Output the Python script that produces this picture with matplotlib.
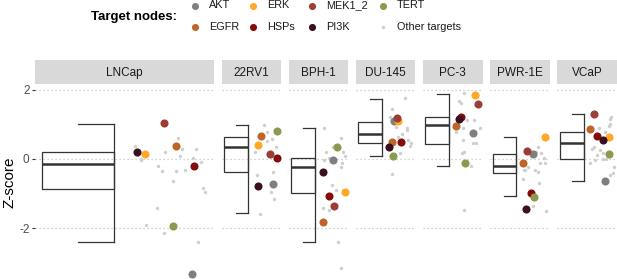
import matplotlib
matplotlib.use("Agg")
import matplotlib.pyplot as plt
from matplotlib.patches import Rectangle

plt.rcParams['font.family'] = ['Liberation Sans', 'DejaVu Sans']

cells = ['LNCap', '22RV1', 'BPH-1', 'DU-145', 'PC-3', 'PWR-1E', 'VCaP']
width_ratio = [3, 1, 1, 1, 1, 1, 1]

# box summary per cell line
whis_lo = [-2.40, -1.57, -2.40, 0.08, -0.19, -1.08, -0.63]
q1 = [-0.87, -0.38, -0.98, 0.47, 0.44, -0.41, 0.00]
med = [-0.15, 0.34, -0.22, 0.73, 0.99, -0.21, 0.45]
q3 = [0.19, 0.62, 0.04, 1.06, 1.20, 0.13, 0.78]
whis_hi = [1.02, 0.99, 0.89, 1.73, 1.88, 0.62, 1.28]

# target nodes
nodes = ['AKT', 'EGFR', 'ERK', 'HSPs', 'MEK1_2', 'PI3K', 'TERT']
node_colors = ['#7f7f7f', '#c0652a', '#ffa826', '#860b0b', '#9e3d36', '#3a0f22', '#8a9a4e']
other_color = '#cfcfcf'

akt = [-3.32, -0.73, -0.04, 1.10, 0.74, 0.14, -0.63]
egfr = [0.37, 0.66, -1.82, 0.50, 0.96, -0.11, 0.86]
erk = [0.135, 0.39, -0.94, 1.10, 1.84, 0.63, 0.64]
hsps = [-0.20, 0.04, -1.06, 0.50, 1.22, -0.97, 0.67]
mek = [1.03, 0.14, -1.35, 1.17, 1.58, 0.23, 1.29]
pi3k = [0.21, -0.77, -0.37, 0.33, 1.15, -1.45, 0.55]
tert = [-1.93, 0.81, 0.34, 0.07, -0.12, -1.09, 0.14]
node_values = [akt, egfr, erk, hsps, mek, pi3k, tert]

# jitter positions inside each panel
akt_x = [0.878, 0.867, 0.75, 0.64, 0.84, 0.72, 0.805]
egfr_x = [0.787, 0.667, 0.57, 0.61, 0.56, 0.555, 0.54]
erk_x = [0.614, 0.61, 0.94, 0.71, 0.87, 0.92, 0.87]
hsps_x = [0.891, 0.93, 0.67, 0.76, 0.64, 0.68, 0.66]
mek_x = [0.72, 0.817, 0.755, 0.695, 0.93, 0.62, 0.62]
pi3k_x = [0.571, 0.605, 0.57, 0.56, 0.61, 0.605, 0.77]
tert_x = [0.771, 0.933, 0.81, 0.62, 0.71, 0.73, 0.87]
node_x = [akt_x, egfr_x, erk_x, hsps_x, mek_x, pi3k_x, tert_x]

# other targets
other_v = [
    [0.60, 0.28, 0.30, 0.20, 0.08, 0.04, 0.0, -0.10, -0.21, -0.36, -0.36, -0.31, -0.65, -0.85, -0.94, -1.40, -1.90, -2.14, -2.40, 0.38, -0.03],
    [0.98, 0.79, 0.57, 0.33, 0.21, -0.46, -0.37, -0.94, -1.16, -1.58, 0.52],
    [0.90, 0.60, 0.33, 0.21, 0.21, 0.07, 0.04, -0.03, -0.12, -0.22, -0.75, -0.89, -1.40, -1.47, -2.38, -3.13, -0.95],
    [1.75, 1.44, 1.22, 0.90, 0.84, 0.93, 0.71, 0.55, 0.45, 0.38, 0.16, -0.44, 0.64],
    [1.89, 1.67, 1.61, 1.12, 1.12, 0.90, 0.90, 0.79, 0.55, 0.45, 0.45, 0.21, 0.17, -0.19, -1.47],
    [0.35, 0.21, 0.16, 0.02, -0.11, -0.12, -0.22, -0.32, -0.33, -0.32, -0.37, -0.58, -0.68, -1.35, -1.49],
    [1.20, 1.14, 1.0, 0.94, 0.79, 0.90, 0.33, 0.30, 0.26, 0.16, 0.12, 0.0, -0.03, -0.12, 0.01, -0.22, -0.41, -0.46],
]
other_x = [
    [0.80, 0.82, 0.90, 0.725, 0.81, 0.88, 0.59, 0.93, 0.687, 0.71, 0.79, 0.84, 0.77, 0.94, 0.95, 0.68, 0.62, 0.72, 0.91, 0.56, 0.59],
    [0.705, 0.76, 0.845, 0.91, 0.567, 0.60, 0.855, 0.83, 0.88, 0.64, 0.76],
    [0.60, 0.88, 0.74, 0.62, 0.91, 0.95, 0.67, 0.59, 0.89, 0.87, 0.72, 0.80, 0.57, 0.68, 0.82, 0.87, 0.92],
    [0.83, 0.60, 0.58, 0.85, 0.86, 0.67, 0.78, 0.87, 0.93, 0.91, 0.74, 0.61, 0.70],
    [0.68, 0.61, 0.64, 0.74, 0.86, 0.67, 0.95, 0.56, 0.67, 0.83, 0.88, 0.68, 0.66, 0.81, 0.68],
    [0.80, 0.76, 0.85, 0.90, 0.915, 0.835, 0.63, 0.575, 0.59, 0.75, 0.80, 0.555, 0.82, 0.72, 0.93],
    [0.895, 0.88, 0.88, 0.87, 0.80, 0.69, 0.62, 0.58, 0.72, 0.77, 0.67, 0.76, 0.63, 0.54, 0.82, 0.95, 0.93, 0.88],
]

W, H = 617, 279
fig = plt.figure(figsize=(W / 100, H / 100), dpi=100)

left_px, right_px, gap_px = 35, 617, 7.5
unit = (right_px - left_px - gap_px * (len(cells) - 1)) / sum(width_ratio)
panel_top, panel_bot = 85, 279
strip_top, strip_bot = 60, 84
box_l, box_r, cap_l = 0.04, 0.44, 0.24
line_c = '#333333'

x0 = left_px
for i, cell in enumerate(cells):
    w = unit * width_ratio[i]
    ax = fig.add_axes([x0 / W, (H - panel_bot) / H, w / W, (panel_bot - panel_top) / H])
    sax = fig.add_axes([x0 / W, (H - strip_bot) / H, w / W, (strip_bot - strip_top) / H])
    x0 += w + gap_px

    sax.set_facecolor('#d9d9d9')
    sax.set_xticks([])
    sax.set_yticks([])
    for s in sax.spines.values():
        s.set_visible(False)
    sax.text(0.5, 0.45, cell, ha='center', va='center', fontsize=8.5, color='#1a1a1a', transform=sax.transAxes)

    ax.set_xlim(0, 1)
    ax.set_ylim(-3.46, 2.13)
    for s in ax.spines.values():
        s.set_visible(False)
    ax.set_xticks([])
    for g in [-2, 0, 2]:
        ax.axhline(g, color='#c4c4c4', lw=0.9, ls=(0, (1, 2.2)), zorder=0)

    # half box with bracket whiskers
    ax.add_patch(Rectangle((box_l, q1[i]), box_r - box_l, q3[i] - q1[i], fill=False, ec=line_c, lw=0.9, zorder=2))
    ax.plot([box_l, box_r], [med[i], med[i]], color=line_c, lw=1.8, zorder=2, solid_capstyle='butt')
    ax.plot([box_r, box_r], [whis_lo[i], whis_hi[i]], color=line_c, lw=0.9, zorder=2)
    ax.plot([cap_l, box_r], [whis_hi[i], whis_hi[i]], color=line_c, lw=0.9, zorder=2)
    ax.plot([cap_l, box_r], [whis_lo[i], whis_lo[i]], color=line_c, lw=0.9, zorder=2)

    ax.scatter(other_x[i], other_v[i], s=6, color=other_color, lw=0, zorder=3, clip_on=False)
    for k in range(len(nodes)):
        ax.scatter(node_x[k][i], node_values[k][i], s=34, color=node_colors[k], lw=0, zorder=4, clip_on=False)

    if i == 0:
        ax.set_yticks([-2, 0, 2])
        ax.set_yticklabels(['-2', '0', '2'])
        ax.tick_params(axis='y', length=2.5, width=0.8, color=line_c, labelsize=8.5, labelcolor='#4d4d4d', pad=1.5)
        ax.set_ylabel('Z-score', fontsize=11, labelpad=2)
    else:
        ax.set_yticks([])

# legend, laid out in rows like the original
leg = fig.add_axes([0, 0, 1, 1], zorder=-1)
leg.set_xlim(0, W)
leg.set_ylim(H, 0)
leg.axis('off')
leg_rows = [['AKT', 'ERK', 'MEK1_2', 'TERT'], ['EGFR', 'HSPs', 'PI3K', 'Other targets']]
col_px = [195, 253, 312, 383]
row_px = [5.5, 27]
for r, row in enumerate(leg_rows):
    for c, name in enumerate(row):
        if name in nodes:
            leg.scatter(col_px[c], row_px[r], s=26, color=node_colors[nodes.index(name)], lw=0)
        else:
            leg.scatter(col_px[c], row_px[r], s=6, color=other_color, lw=0)
        leg.text(col_px[c] + 14, row_px[r], name, ha='left', va='center', fontsize=7.8, color='#1a1a1a')
leg.text(177, 17, 'Target nodes:', ha='right', va='center', fontsize=9.5, fontweight='bold')

fig.savefig('out.png', dpi=100)
